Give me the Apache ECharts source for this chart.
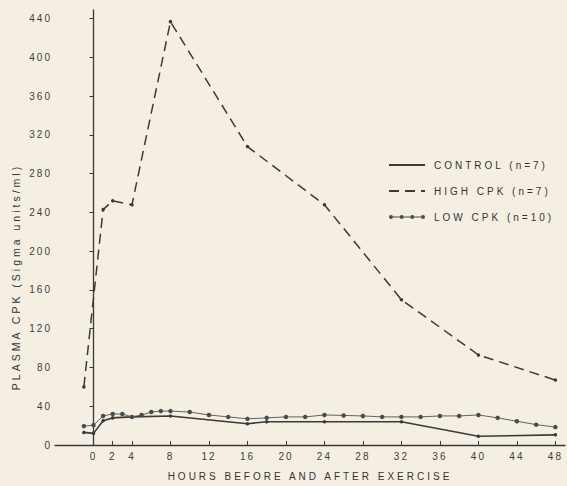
<!DOCTYPE html>
<html>
<head>
<meta charset="utf-8">
<script src="https://cdn.jsdelivr.net/npm/echarts@6/dist/echarts.min.js"></script>
<style>
  html, body { margin: 0; padding: 0; background: #f4efe2; }
  #chart { width: 567px; height: 486px; }
  #chart text { letter-spacing: 2px; }
  #chart text[style*="Arimo"], #chart text[font-family*="Arimo"] { letter-spacing: 3px; }
</style>
</head>
<body>
<div id="chart"></div>
<script>
// Hours relative to exercise
const xTickValues = [0, 2, 4, 8, 12, 16, 20, 24, 28, 32, 36, 40, 44, 48];
const yTickValues = [0, 40, 80, 120, 160, 200, 240, 280, 320, 360, 400, 440];

const controlHours  = [-1, 0, 1, 2, 4, 8, 16, 18, 24, 32, 40, 48];
const controlValues = [13, 12, 25, 28, 29, 30, 22, 24, 24, 24, 9, 10.5];

const highHours  = [-1, 1, 2, 4, 8, 16, 24, 32, 40, 48];
const highValues = [60, 243, 252, 248, 437, 308, 248, 150, 93, 67];

const lowHours  = [-1, 0, 1, 2, 3, 4, 5, 6, 7, 8, 10, 12, 14, 16, 18, 20, 22, 24, 26, 28, 30, 32, 34, 36, 38, 40, 42, 44, 46, 48];
const lowValues = [19.5, 20.5, 30, 32, 32, 29, 31, 34, 35, 35, 34, 31, 29, 27, 28, 29, 29, 31, 30.5, 30, 29, 29, 29, 30, 30, 31, 28, 24.5, 21, 18.5];

const seriesNames = ['CONTROL (n=7)', 'HIGH CPK (n=7)', 'LOW CPK (n=10)'];

const pair = (xs, ys) => xs.map((x, i) => [x, ys[i]]);

const ink = '#3a3a3a';
const lowInk = '#474c4c';
const tickFont = 'Liberation Sans';
const titleFont = 'Arimo, Liberation Sans';

const chart = echarts.init(document.getElementById('chart'), null, { renderer: 'svg' });

const lowIcon = 'path://' +
  'M4,1.6H10.7V2.4H4Z' +
  'M14.7,1.6H21.3V2.4H14.7Z' +
  'M25.3,1.6H32V2.4H25.3Z' +
  'M0,2a2,2 0 1,1 4,0a2,2 0 1,1 -4,0Z' +
  'M10.7,2a2,2 0 1,1 4,0a2,2 0 1,1 -4,0Z' +
  'M21.3,2a2,2 0 1,1 4,0a2,2 0 1,1 -4,0Z' +
  'M32,2a2,2 0 1,1 4,0a2,2 0 1,1 -4,0Z';

chart.setOption({
  backgroundColor: '#f4efe2',
  animation: false,
  grid: { left: 55, right: 2, top: 10, bottom: 39, containLabel: false },
  legend: {
    left: 383,
    top: 153,
    orient: 'vertical',
    itemWidth: 36,
    itemHeight: 4,
    itemGap: 12,
    textStyle: { fontSize: 10, color: '#333', fontFamily: titleFont, lineHeight: 14, padding: [0, 0, 0, 4] },
    data: [
      { name: seriesNames[0], itemStyle: { opacity: 0 } },
      { name: seriesNames[1], itemStyle: { opacity: 0 } },
      { name: seriesNames[2], icon: lowIcon, itemStyle: { color: lowInk, borderWidth: 0 } }
    ]
  },
  xAxis: {
    type: 'value',
    min: -4,
    max: 49,
    name: 'HOURS BEFORE AND AFTER EXERCISE',
    nameLocation: 'middle',
    nameGap: 26,
    nameTextStyle: { fontSize: 10, color: '#333', fontFamily: titleFont },
    splitLine: { show: false },
    axisLine: { lineStyle: { color: ink, width: 1.3 } },
    axisTick: { show: true, inside: true, length: 4, customValues: xTickValues, lineStyle: { color: ink } },
    axisLabel: { customValues: xTickValues, fontSize: 10, color: '#3d3d3d', fontFamily: tickFont, margin: 6 }
  },
  yAxis: {
    type: 'value',
    min: 0,
    max: 449,
    splitLine: { show: false },
    axisLine: { show: true, lineStyle: { color: ink, width: 1.3 } },
    axisTick: { show: true, inside: false, length: 4, customValues: yTickValues, lineStyle: { color: ink } },
    axisLabel: { customValues: yTickValues, fontSize: 10, color: '#3d3d3d', fontFamily: tickFont, margin: 3 }
  },
  graphic: [{
    type: 'text',
    x: 16, y: 277,
    rotation: Math.PI / 2,
    style: {
      text: 'PLASMA CPK (Sigma units/ml)',
      fontSize: 10.5,
      fontFamily: titleFont,
      fill: '#333',
      textAlign: 'center',
      textVerticalAlign: 'middle'
    }
  }],
  series: [
    {
      name: seriesNames[0],
      type: 'line',
      data: pair(controlHours, controlValues),
      symbol: 'circle', symbolSize: 3.5,
      itemStyle: { color: ink },
      lineStyle: { color: ink, width: 1.6 }
    },
    {
      name: seriesNames[1],
      type: 'line',
      data: pair(highHours, highValues),
      symbol: 'circle', symbolSize: 3.5,
      itemStyle: { color: ink },
      lineStyle: { color: ink, width: 1.5, type: [10, 6] }
    },
    {
      name: seriesNames[2],
      type: 'line',
      data: pair(lowHours, lowValues),
      symbol: 'circle', symbolSize: 4.5,
      itemStyle: { color: lowInk, borderWidth: 0 },
      lineStyle: { color: '#5d6462', width: 1 }
    }
  ]
});
</script>
</body>
</html>
